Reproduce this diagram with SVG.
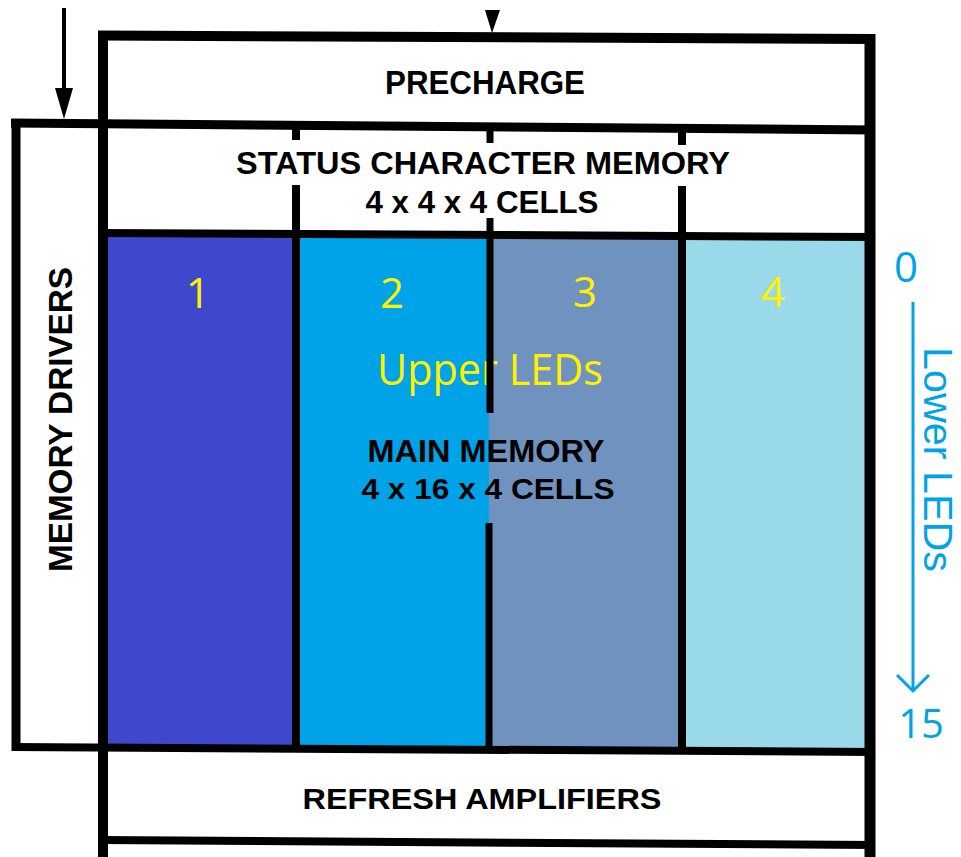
<svg xmlns="http://www.w3.org/2000/svg" width="961" height="857" viewBox="0 0 961 857">
<style>
.ln{stroke:#000;stroke-linecap:butt;fill:none}
.lbl{font-family:"Liberation Sans",Arial,sans-serif;font-weight:bold;fill:#000}
.num{font-family:"Open Sans","Noto Sans",sans-serif;fill:#FFF200;text-anchor:middle}
.blu{font-family:"Open Sans","Noto Sans",sans-serif;fill:#00A2E8}
.blv{font-family:"Liberation Sans",Arial,sans-serif;fill:#00A2E8}
</style>
<rect width="961" height="857" fill="#fff"/>
<g id="main-memory">
<rect x="104" y="235" width="190" height="514" fill="#3F48CC"/>
<rect x="294" y="235" width="195" height="514" fill="#00A2E8"/>
<rect x="489" y="235" width="193" height="515" fill="#7092BE"/>
<rect x="682" y="235" width="188" height="516" fill="#99D9EA"/>
<text class="num" x="198" y="308" font-size="42">1</text>
<text class="num" x="392" y="308" font-size="42">2</text>
<text class="num" x="585" y="307" font-size="42">3</text>
<text class="num" x="773" y="307" font-size="42">4</text>
<text class="num" x="490" y="385" font-size="44" textLength="226" lengthAdjust="spacingAndGlyphs">Upper LEDs</text>
<text class="lbl" x="486" y="462" font-size="32" text-anchor="middle" textLength="237" lengthAdjust="spacingAndGlyphs">MAIN MEMORY</text>
<text class="lbl" x="488" y="499" font-size="30" text-anchor="middle" textLength="253" lengthAdjust="spacingAndGlyphs">4 x 16 x 4 CELLS</text>
</g>
<g id="frame">
<line class="ln" x1="103" y1="31" x2="103" y2="857" stroke-width="10"/>
<line class="ln" x1="870" y1="34" x2="870" y2="857" stroke-width="11"/>
<line class="ln" x1="98" y1="35.5" x2="875" y2="39" stroke-width="10"/>
<line class="ln" x1="11" y1="123" x2="875" y2="130" stroke-width="9"/>
<line class="ln" x1="100" y1="233" x2="875" y2="237" stroke-width="8"/>
<line class="ln" x1="12" y1="747" x2="875" y2="752" stroke-width="8"/>
<line class="ln" x1="100" y1="840" x2="875" y2="845" stroke-width="8"/>
<line class="ln" x1="296" y1="127" x2="296" y2="140" stroke-width="8"/>
<line class="ln" x1="296" y1="185" x2="296" y2="748" stroke-width="8"/>
<line class="ln" x1="490" y1="128" x2="490" y2="143" stroke-width="7"/>
<line class="ln" x1="490" y1="218" x2="490" y2="413" stroke-width="7"/>
<line class="ln" x1="489" y1="523" x2="489" y2="749" stroke-width="7"/>
<line class="ln" x1="682" y1="129" x2="682" y2="145" stroke-width="8"/>
<line class="ln" x1="682" y1="186" x2="682" y2="750" stroke-width="8"/>
</g>
<g id="precharge">
<text class="lbl" x="485" y="94" font-size="34" text-anchor="middle" textLength="200" lengthAdjust="spacingAndGlyphs">PRECHARGE</text>
</g>
<g id="status-character-memory">
<text class="lbl" x="483" y="174" font-size="31" text-anchor="middle" textLength="494" lengthAdjust="spacingAndGlyphs">STATUS CHARACTER MEMORY</text>
<text class="lbl" x="482" y="213" font-size="31" text-anchor="middle" textLength="233" lengthAdjust="spacingAndGlyphs">4 x 4 x 4 CELLS</text>
</g>
<g id="memory-drivers">
<line class="ln" x1="16" y1="119" x2="16" y2="751" stroke-width="9"/>
<text class="lbl" transform="translate(72,572) rotate(-90)" x="0" y="0" font-size="34" textLength="305" lengthAdjust="spacingAndGlyphs">MEMORY DRIVERS</text>
</g>
<g id="refresh-amplifiers">
<text class="lbl" x="482" y="809" font-size="30" text-anchor="middle" textLength="359" lengthAdjust="spacingAndGlyphs">REFRESH AMPLIFIERS</text>
</g>
<g id="lower-leds">
<text class="blu" x="906" y="282" font-size="42" text-anchor="middle">0</text>
<text class="blu" x="921" y="738" font-size="40" text-anchor="middle">15</text>
<text class="blv" transform="translate(924,347) rotate(90)" x="0" y="0" font-size="40" textLength="225" lengthAdjust="spacingAndGlyphs">Lower LEDs</text>
</g>
<g id="connectors">
<line x1="64" y1="8" x2="64" y2="92" stroke="#000" stroke-width="4"/>
<polygon points="55,88 73,88 64,119" fill="#000"/>
<polygon points="485,10 500,10 492,33" fill="#000"/>
<line x1="913" y1="302" x2="913" y2="691" stroke="#00A2E8" stroke-width="3"/>
<polyline points="897,675 913,691 929,675" fill="none" stroke="#00A2E8" stroke-width="3"/>
</g>
</svg>
